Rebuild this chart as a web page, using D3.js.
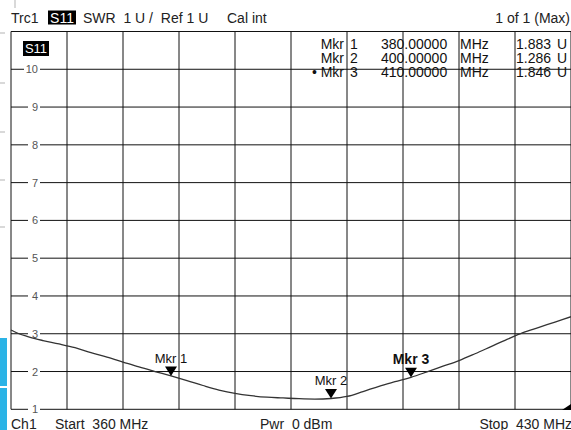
<!DOCTYPE html>
<html>
<head>
<meta charset="utf-8">
<script src="https://cdn.jsdelivr.net/npm/d3@7"></script>
<style>
  body { margin: 0; background: #fff; }
  svg { display: block; font-family: "Liberation Sans", Arial, sans-serif; }
</style>
</head>
<body>
<div id="chart"></div>
<script>
// trace data (SWR vs frequency)
var freqMHz = [360, 361, 362, 363, 364, 366, 368, 370, 372, 374, 376, 378, 380, 382, 384, 386, 388, 390,
               392, 394, 396, 398, 400, 402, 404, 406, 408, 410, 412, 414, 416, 418, 420, 422, 424, 426, 428, 430];
var swr = [3.10, 3.00, 2.93, 2.87, 2.82, 2.73, 2.63, 2.50, 2.38, 2.25, 2.12, 2.00, 1.883, 1.76, 1.63, 1.51, 1.42, 1.36,
           1.32, 1.30, 1.28, 1.27, 1.286, 1.34, 1.47, 1.61, 1.73, 1.846, 1.99, 2.14, 2.29, 2.47, 2.66, 2.85, 3.03, 3.17, 3.31, 3.45];

var yTicks = [1, 2, 3, 4, 5, 6, 7, 8, 9, 10];
var xGrid = [360, 367, 374, 381, 388, 395, 402, 409, 416, 423, 430];

var markerNames = ["Mkr 1", "Mkr 2", "Mkr 3"];
var markerFreqs = [380, 400, 410];
var markerVals = [1.883, 1.286, 1.846];
var markerFreqText = ["380.00000", "400.00000", "410.00000"];
var markerValText = ["1.883", "1.286", "1.846"];

var width = 571, height = 430;

var x = d3.scaleLinear().domain([360, 430]).range([11, 571]);
var y = d3.scaleLinear().domain([1, 11]).range([409.3, 31.5]);

var svg = d3.select("#chart").append("svg")
    .attr("width", width)
    .attr("height", height);

// screen leftovers at the left edge
svg.append("line").attr("x1", 15).attr("x2", 15).attr("y1", 0).attr("y2", 8)
    .attr("stroke", "#ccc").attr("stroke-width", 1.5);
svg.selectAll(".edge-dash")
    .data([33, 83, 132, 180, 227])
  .enter().append("line")
    .attr("x1", 0).attr("x2", 5)
    .attr("y1", function(d) { return d; }).attr("y2", function(d) { return d; })
    .attr("stroke", "#ccc").attr("stroke-width", 1.5);

// grid
svg.selectAll(".vgrid")
    .data(xGrid)
  .enter().append("line")
    .attr("x1", function(d) { return x(d); })
    .attr("x2", function(d) { return x(d); })
    .attr("y1", y(11)).attr("y2", y(1))
    .attr("stroke", "#111").attr("stroke-width", 1);

svg.selectAll(".hgrid")
    .data(yTicks.concat([11]))
  .enter().append("line")
    .attr("x1", x(360)).attr("x2", x(430))
    .attr("y1", function(d) { return y(d); })
    .attr("y2", function(d) { return y(d); })
    .attr("stroke", "#111").attr("stroke-width", 1);

// y tick labels sitting on the grid lines
var yl = svg.selectAll(".ylab")
    .data(yTicks)
  .enter().append("g");
yl.append("rect")
    .attr("x", function(d) { return d >= 10 ? 24 : 28; })
    .attr("width", function(d) { return d >= 10 ? 16 : 12; })
    .attr("y", function(d) { return y(d) - 5; })
    .attr("height", 10)
    .attr("fill", "#fff");
yl.append("text")
    .attr("x", 38)
    .attr("y", function(d) { return y(d) + 4; })
    .attr("text-anchor", "end")
    .attr("font-size", 11)
    .attr("fill", "#555")
    .text(function(d) { return d; });

// trace
var line = d3.line()
    .x(function(d, i) { return x(freqMHz[i]); })
    .y(function(d) { return y(d); })
    .curve(d3.curveMonotoneX);

svg.append("path")
    .datum(swr)
    .attr("d", line)
    .attr("fill", "none")
    .attr("stroke", "#333")
    .attr("stroke-width", 1.3);

// markers
markerFreqs.forEach(function(f, i) {
  var px = x(f), py = y(markerVals[i]);
  svg.append("path")
      .attr("d", "M" + px + "," + py + "L" + (px - 6) + "," + (py - 9.5) + "L" + (px + 6) + "," + (py - 9.5) + "Z")
      .attr("fill", "#000");
  svg.append("text")
      .attr("x", px)
      .attr("y", py - 13)
      .attr("text-anchor", "middle")
      .attr("font-size", i == 2 ? 14 : 13)
      .attr("font-weight", i == 2 ? "bold" : "normal")
      .attr("fill", "#111")
      .text(markerNames[i]);
});

// marker table
var rowY = [49, 63, 77];
markerNames.forEach(function(n, i) {
  var g = svg.append("g").attr("font-size", 14).attr("fill", "#111");
  g.append("text").attr("x", 344).attr("y", rowY[i]).attr("text-anchor", "end")
      .text((i == 2 ? "\u2022 " : "") + "Mkr");
  g.append("text").attr("x", 350).attr("y", rowY[i]).text(n.split(" ")[1]);
  g.append("text").attr("x", 381).attr("y", rowY[i]).text(markerFreqText[i]);
  g.append("text").attr("x", 460).attr("y", rowY[i]).text("MHz");
  g.append("text").attr("x", 516).attr("y", rowY[i]).text(markerValText[i]);
  g.append("text").attr("x", 557).attr("y", rowY[i]).text("U");
});

// trace label inside plot
svg.append("rect").attr("x", 23).attr("y", 41).attr("width", 26).attr("height", 15).attr("fill", "#000");
svg.append("text").attr("x", 36).attr("y", 53).attr("text-anchor", "middle")
    .attr("font-size", 13).attr("fill", "#fff").text("S11");

// header
var head = svg.append("g").attr("font-size", 14).attr("fill", "#222");
head.append("text").attr("x", 11).attr("y", 22.5).text("Trc1");
head.append("rect").attr("x", 48).attr("y", 10.5).attr("width", 28).attr("height", 14).attr("fill", "#000");
head.append("text").attr("x", 62).attr("y", 22.5).attr("text-anchor", "middle").attr("fill", "#fff").text("S11");
head.append("text").attr("x", 83).attr("y", 22.5).attr("xml:space", "preserve").text("SWR  1 U /  Ref 1 U");
head.append("text").attr("x", 227).attr("y", 22.5).text("Cal int");
head.append("text").attr("x", 570).attr("y", 22.5).attr("text-anchor", "end").text("1 of 1 (Max)");

// footer
var foot = svg.append("g").attr("font-size", 14).attr("fill", "#222");
foot.append("text").attr("x", 11).attr("y", 429).text("Ch1");
foot.append("text").attr("x", 55).attr("y", 429).attr("xml:space", "preserve").text("Start  360 MHz");
foot.append("text").attr("x", 260).attr("y", 429).attr("xml:space", "preserve").text("Pwr  0 dBm");
foot.append("text").attr("x", 572).attr("y", 429).attr("text-anchor", "end").attr("xml:space", "preserve").text("Stop  430 MHz");

// corner triangle bottom right
svg.append("path").attr("d", "M562,410L571,404L571,410Z").attr("fill", "#000");

// blue tabs on the left edge
svg.append("rect").attr("x", 0).attr("y", 338).attr("width", 7).attr("height", 48).attr("fill", "#2bb3e6");
svg.append("rect").attr("x", 0).attr("y", 388).attr("width", 7).attr("height", 42).attr("fill", "#2bb3e6");
</script>
</body>
</html>
